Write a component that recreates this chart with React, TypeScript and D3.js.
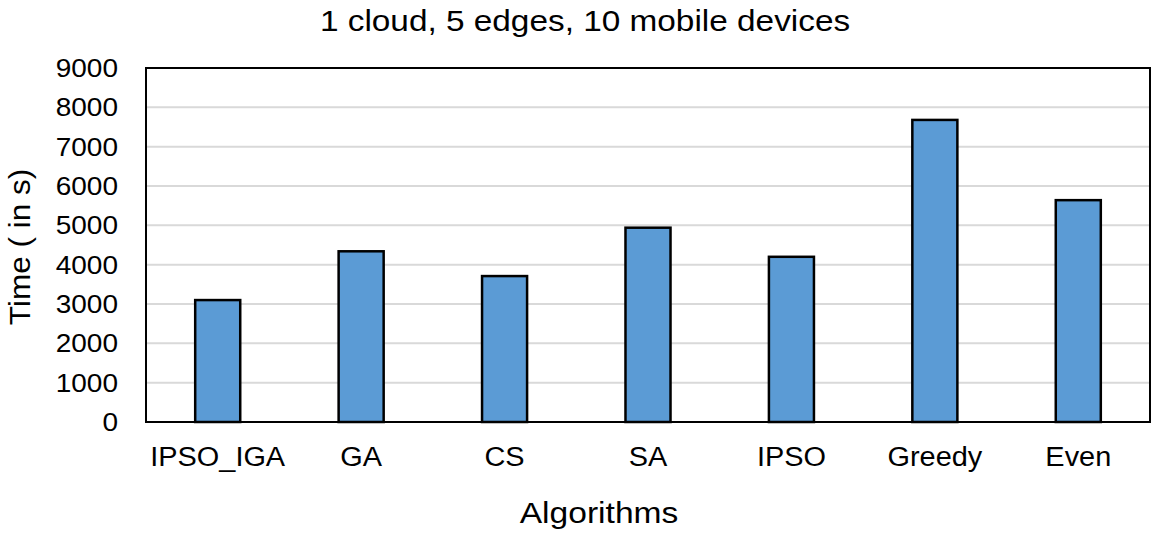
import React, { useEffect, useRef } from "react";
import * as d3 from "d3";

const algorithms = ["IPSO_IGA", "GA", "CS", "SA", "IPSO", "Greedy", "Even"];
const timeValues = [3100, 4340, 3710, 4940, 4200, 7680, 5640];
const yTicks = [0, 1000, 2000, 3000, 4000, 5000, 6000, 7000, 8000, 9000];

const W = 1155;
const H = 535;
const FONT = "'Liberation Sans', Arial, sans-serif";

const App = () => {
  const svgRef = useRef<SVGSVGElement>(null);

  useEffect(() => {
    const svg = d3.select(svgRef.current);
    svg.selectAll("*").remove();

    const margin = { top: 68, right: 5, bottom: 113, left: 146 };
    const innerW = W - margin.left - margin.right;
    const innerH = H - margin.top - margin.bottom;

    const x = d3
      .scaleBand()
      .domain(algorithms)
      .range([0, innerW])
      .paddingInner(0.686)
      .paddingOuter(0.343);
    const y = d3.scaleLinear().domain([0, 9000]).range([innerH, 0]);

    const g = svg
      .append("g")
      .attr("transform", `translate(${margin.left},${margin.top})`);

    // gridlines
    g.selectAll("line.grid")
      .data(yTicks.slice(1))
      .enter()
      .append("line")
      .attr("class", "grid")
      .attr("x1", 0)
      .attr("x2", innerW)
      .attr("y1", (d) => y(d))
      .attr("y2", (d) => y(d))
      .attr("stroke", "#d9d9d9")
      .attr("stroke-width", 2);

    // bars
    g.selectAll("rect.bar")
      .data(timeValues)
      .enter()
      .append("rect")
      .attr("class", "bar")
      .attr("x", (_, i) => x(algorithms[i]) as number)
      .attr("y", (d) => y(d))
      .attr("width", x.bandwidth())
      .attr("height", (d) => innerH - y(d))
      .attr("fill", "#5b9bd5")
      .attr("stroke", "#000")
      .attr("stroke-width", 2.5);

    // frame
    g.append("rect")
      .attr("x", 0)
      .attr("y", 0)
      .attr("width", innerW)
      .attr("height", innerH)
      .attr("fill", "none")
      .attr("stroke", "#000")
      .attr("stroke-width", 2);

    // y tick labels (text is a bit wider than plain Arial in the original)
    g.selectAll("text.ytick")
      .data(yTicks)
      .enter()
      .append("text")
      .attr("class", "ytick")
      .attr("transform", (d) => `translate(-28, ${y(d)}) scale(1.12, 1)`)
      .attr("dy", "0.36em")
      .attr("text-anchor", "end")
      .attr("font-family", FONT)
      .attr("font-size", 25)
      .attr("fill", "#000")
      .text((d) => d);

    // x tick labels
    g.selectAll("text.xtick")
      .data(algorithms)
      .enter()
      .append("text")
      .attr("class", "xtick")
      .attr(
        "transform",
        (d) =>
          `translate(${(x(d) as number) + x.bandwidth() / 2}, ${innerH + 44}) scale(1.07, 1)`
      )
      .attr("text-anchor", "middle")
      .attr("font-family", FONT)
      .attr("font-size", 27)
      .attr("fill", "#000")
      .text((d) => d);

    // title
    svg
      .append("text")
      .attr("transform", "translate(585, 31) scale(1.15, 1)")
      .attr("text-anchor", "middle")
      .attr("font-family", FONT)
      .attr("font-size", 29)
      .attr("fill", "#000")
      .text("1 cloud, 5 edges, 10 mobile devices");

    // x axis title
    svg
      .append("text")
      .attr("transform", "translate(599, 523) scale(1.12, 1)")
      .attr("text-anchor", "middle")
      .attr("font-family", FONT)
      .attr("font-size", 30)
      .attr("fill", "#000")
      .text("Algorithms");

    // y axis title
    svg
      .append("text")
      .attr("transform", "translate(30, 247) rotate(-90) scale(1.05, 1)")
      .attr("text-anchor", "middle")
      .attr("font-family", FONT)
      .attr("font-size", 30)
      .attr("fill", "#000")
      .text("Time ( in s)");
  }, []);

  return (
    <svg
      ref={svgRef}
      width={W}
      height={H}
      style={{ position: "absolute", left: 0, top: 0, background: "#fff" }}
    ></svg>
  );
};

export default App;
